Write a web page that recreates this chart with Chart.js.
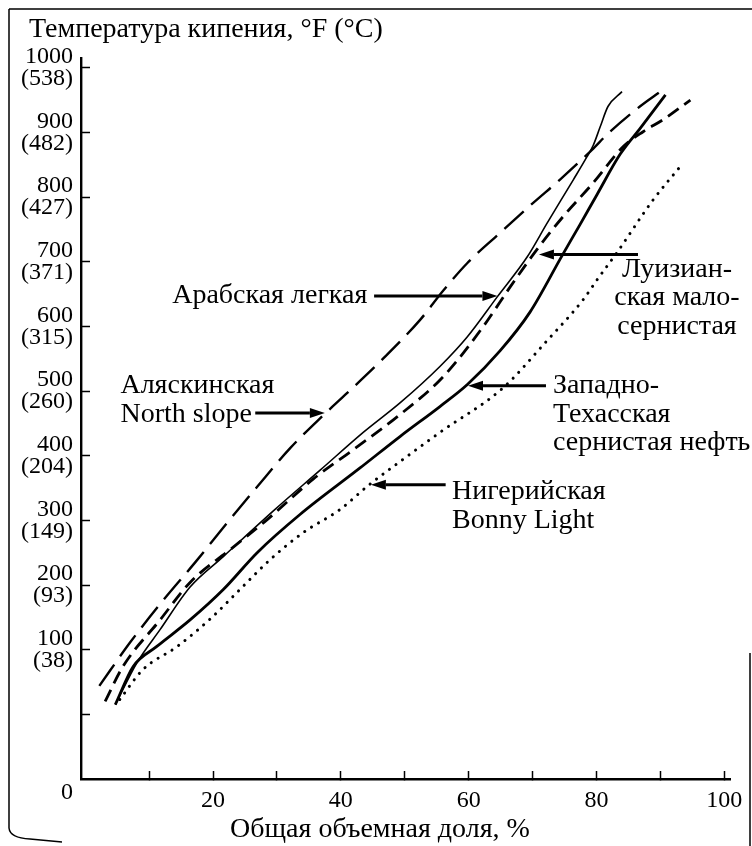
<!DOCTYPE html>
<html>
<head>
<meta charset="utf-8">
<script src="https://cdn.jsdelivr.net/npm/chart.js@4.4.1/dist/chart.umd.min.js"></script>
<style>
  html, body { margin: 0; padding: 0; background: #fff; }
  #wrap { width: 752px; height: 846px; }
</style>
</head>
<body>
<div id="wrap"><canvas id="graf" width="752" height="846"></canvas></div>
<script>
// Оси
const xTicks = [10, 20, 30, 40, 50, 60, 70, 80, 90, 100];
const xLabeled = [20, 40, 60, 80, 100];
const yTicksF = [0, 100, 200, 300, 400, 500, 600, 700, 800, 900, 1000];
const yTicksC = ["", "38", "93", "149", "204", "260", "315", "371", "427", "482", "538"];

// Кривые разгонки: [общая объемная доля, %; температура, °F]
const alaska = [[2.2, 44], [7, 111], [12, 174], [17.2, 235], [22.2, 296], [26.9, 352], [32.1, 412], [37.2, 462], [41, 497], [46.6, 550], [52.4, 610], [56, 655], [59.8, 698], [64.5, 741], [70.1, 791], [74.3, 827], [79.3, 873], [81.8, 898], [86.8, 940], [90, 963]];
const arabian = [[4.7, 15], [8.1, 80], [11.7, 131], [16.4, 197], [21.6, 244], [29.7, 317], [36.8, 378], [43.5, 436], [49.3, 482], [55.5, 538], [59.8, 584], [64.5, 646], [69.2, 708], [72.3, 760], [76.4, 827], [78.5, 862], [79.5, 880], [80.6, 909], [81.8, 940], [84, 963]];
const louisiana = [[3.1, 20], [5.9, 74], [11.7, 146], [16.4, 204], [22.7, 255], [28.1, 298], [35.7, 364], [41.9, 409], [48.8, 460], [56, 522], [62.3, 600], [66.5, 661], [70.7, 719], [74.8, 770], [79.5, 822], [84.2, 878], [87.3, 901], [90.5, 920], [94.7, 950]];
const westTexas = [[4.7, 15], [7.5, 74], [11.2, 105], [16.4, 146], [21.6, 193], [26.9, 250], [33.6, 309], [43, 381], [49.3, 430], [55.5, 476], [59.8, 510], [64.9, 562], [69.6, 622], [74.6, 709], [77.4, 757], [80.1, 804], [83.7, 866], [86.9, 907], [90.8, 958]];
const nigeria = [[5.4, 23], [9, 69], [14.4, 105], [19.5, 147], [24.2, 193], [28.9, 239], [34.1, 281], [39.9, 317], [44.3, 354], [50.1, 397], [55.5, 436], [65.4, 505], [72, 575], [77.9, 641], [80.1, 672], [83.2, 714], [88.9, 796], [93.1, 847]];

// Подписи кривых (в координатах графика)
const notes = [
  { lines: ["Арабская легкая"], x: 13.6, y: 647, align: "left", from: [45.2, 647], to: [64.5, 647] },
  { lines: ["Аляскинская", "North slope"], x: 5.5, y: 508, align: "left", from: [26.6, 466], to: [37.5, 466] },
  { lines: ["Луизиан-", "ская мало-", "сернистая"], x: 92.6, y: 688, align: "center", from: [86.5, 711], to: [71, 711] },
  { lines: ["Западно-", "Техасская", "сернистая нефть"], x: 73.2, y: 508, align: "left", from: [72.1, 508], to: [59.9, 508] },
  { lines: ["Нигерийская", "Bonny Light"], x: 57.4, y: 344, align: "left", from: [56.4, 355], to: [44.7, 355] },
];

const serif = "'Liberation Serif', 'Times New Roman', serif";
const pts = (arr) => arr.map(([x, y]) => ({ x: x, y: y }));

function arrow(ctx, x1, y1, x2, y2) {
  const a = Math.atan2(y2 - y1, x2 - x1);
  const hl = 15, hw = 5;
  ctx.beginPath();
  ctx.moveTo(x1, y1);
  ctx.lineTo(x2 - hl * Math.cos(a), y2 - hl * Math.sin(a));
  ctx.stroke();
  ctx.beginPath();
  ctx.moveTo(x2, y2);
  ctx.lineTo(x2 - hl * Math.cos(a) + hw * Math.sin(a), y2 - hl * Math.sin(a) - hw * Math.cos(a));
  ctx.lineTo(x2 - hl * Math.cos(a) - hw * Math.sin(a), y2 - hl * Math.sin(a) + hw * Math.cos(a));
  ctx.closePath();
  ctx.fill();
}

const podpisi = {
  id: "podpisi",
  afterDraw(chart) {
    const ctx = chart.ctx;
    const sx = chart.scales.x, sy = chart.scales.y;
    ctx.save();
    ctx.fillStyle = "#000";
    ctx.strokeStyle = "#000";

    // рамка страницы
    ctx.lineWidth = 1.5;
    ctx.beginPath();
    ctx.moveTo(9, 9);
    ctx.lineTo(752, 9);
    ctx.moveTo(9, 9);
    ctx.lineTo(9, 828);
    ctx.quadraticCurveTo(10, 838, 30, 839);
    ctx.lineTo(62, 842);
    ctx.moveTo(750, 653);
    ctx.lineTo(750, 846);
    ctx.stroke();

    // заголовки
    ctx.font = "28px " + serif;
    ctx.textBaseline = "middle";
    ctx.textAlign = "left";
    ctx.fillText("Температура кипения, °F (°C)", 29, 30);
    ctx.textAlign = "center";
    ctx.fillText("Общая объемная доля, %", 380, 830);
    ctx.font = "24px " + serif;
    ctx.fillText("0", 67, 793);

    // подписи и стрелки
    ctx.font = "28px " + serif;
    notes.forEach((n) => {
      const px = sx.getPixelForValue(n.x);
      const py = sy.getPixelForValue(n.y);
      ctx.textAlign = n.align;
      n.lines.forEach((t, i) => ctx.fillText(t, px, py + i * 28.5));
      ctx.lineWidth = 3;
      arrow(ctx, sx.getPixelForValue(n.from[0]), sy.getPixelForValue(n.from[1]),
        sx.getPixelForValue(n.to[0]), sy.getPixelForValue(n.to[1]));
    });
    ctx.restore();
  },
};

const base = { pointRadius: 0, borderColor: "#000", fill: false, cubicInterpolationMode: "monotone" };

new Chart(document.getElementById("graf"), {
  type: "line",
  data: {
    datasets: [
      { ...base, label: "Аляскинская North slope", data: pts(alaska), borderWidth: 2.4, borderDash: [26, 10] },
      { ...base, label: "Арабская легкая", data: pts(arabian), borderWidth: 1.6 },
      { ...base, label: "Луизианская малосернистая", data: pts(louisiana), borderWidth: 2.8, borderDash: [13, 7] },
      { ...base, label: "Западно-Техасская сернистая нефть", data: pts(westTexas), borderWidth: 2.8 },
      { ...base, label: "Нигерийская Bonny Light", data: pts(nigeria), borderWidth: 3, borderDash: [0.1, 8], borderCapStyle: "round" },
    ],
  },
  options: {
    responsive: false,
    animation: false,
    devicePixelRatio: 1,
    layout: { padding: { left: 8, right: 22, top: 58, bottom: 0 } },
    plugins: { legend: { display: false }, tooltip: { enabled: false }, title: { display: false } },
    scales: {
      x: {
        type: "linear",
        min: -0.67,
        max: 100.9,
        afterBuildTicks: (s) => { s.ticks = xTicks.map((v) => ({ value: v })); },
        afterFit: (s) => { s.height = 67; s.paddingLeft = 0; s.paddingRight = 0; },
        grid: { drawOnChartArea: false, drawTicks: true, tickLength: -8, tickWidth: 1.5, tickColor: "#000" },
        border: { display: true, color: "#000", width: 2.4 },
        ticks: {
          color: "#000",
          padding: 15,
          maxRotation: 0,
          autoSkip: false,
          font: { family: serif, size: 24 },
          callback: (v) => (xLabeled.includes(v) ? String(v) : ""),
        },
      },
      y: {
        type: "linear",
        min: -100,
        max: 1015,
        afterBuildTicks: (s) => { s.ticks = yTicksF.map((v) => ({ value: v })); },
        afterFit: (s) => { s.width = 73; },
        grid: { drawOnChartArea: false, drawTicks: true, tickLength: -9, tickWidth: 1.5, tickColor: "#000" },
        border: { display: true, color: "#000", width: 2.4 },
        ticks: {
          color: "#000",
          padding: 17,
          autoSkip: false,
          font: { family: serif, size: 24, lineHeight: 0.92 },
          callback: (v, i) => (v === 0 ? "" : [String(v), "(" + yTicksC[i] + ")"]),
        },
      },
    },
  },
  plugins: [podpisi],
});
</script>
</body>
</html>
